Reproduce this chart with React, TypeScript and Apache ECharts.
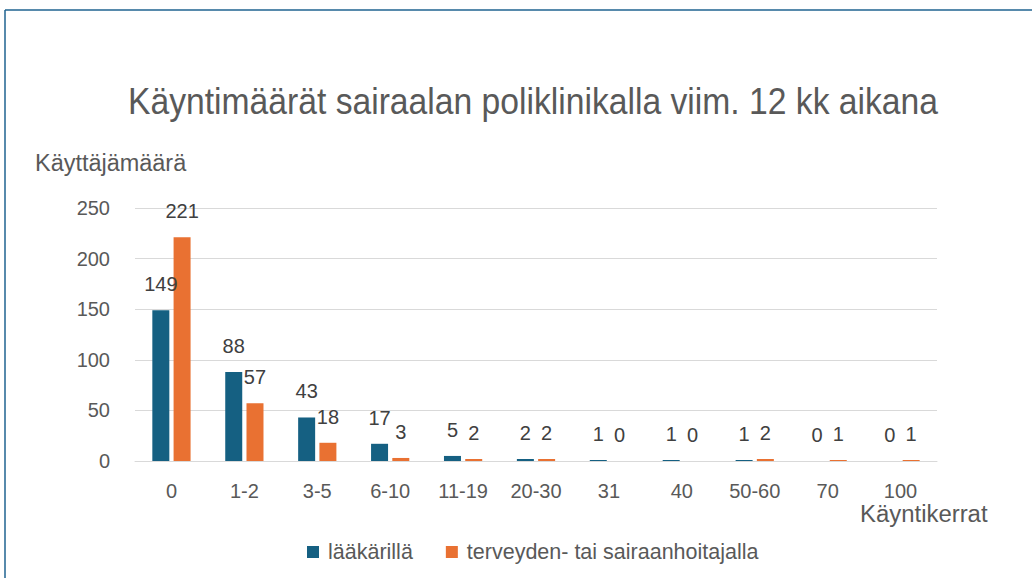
import React, { useEffect, useRef } from "react";
import * as echarts from "echarts";

const categories = ["0", "1-2", "3-5", "6-10", "11-19", "20-30", "31", "40", "50-60", "70", "100"];
const doctorValues = [149, 88, 43, 17, 5, 2, 1, 1, 1, 0, 0];
const nurseValues = [221, 57, 18, 3, 2, 2, 0, 0, 2, 1, 1];
const seriesNames = ["lääkärillä", "terveyden- tai sairaanhoitajalla"];
const yTicks = [0, 50, 100, 150, 200, 250];
const titleText = "Käyntimäärät sairaalan poliklinikalla viim. 12 kk aikana";
const yName = "Käyttäjämäärä";
const xName = "Käyntikerrat";

const FONT = "'Liberation Sans', Arial, sans-serif";

export default function App() {
  const ref = useRef<HTMLDivElement>(null);
  useEffect(() => {
    if (!ref.current) return;
    const chart = echarts.init(ref.current, undefined, { renderer: "svg" });
    const label = {
      show: true,
      position: "top",
      distance: 16,
      color: "#404040",
      fontSize: 20,
      fontFamily: FONT,
    };
    chart.setOption({
      animation: false,
      backgroundColor: "#ffffff",
      graphic: [
        {
          type: "line",
          shape: { x1: 5, y1: 10, x2: 1032, y2: 10 },
          style: { stroke: "#1f6391", lineWidth: 1.5 },
          silent: true,
        },
        {
          type: "line",
          shape: { x1: 5, y1: 10, x2: 5, y2: 578 },
          style: { stroke: "#1f6391", lineWidth: 1.5 },
          silent: true,
        },
        {
          type: "text",
          x: 533,
          y: 101,
          scaleX: 0.91,
          style: {
            text: titleText,
            fill: "#595959",
            fontSize: 37,
            fontFamily: FONT,
            align: "center",
            verticalAlign: "middle",
          },
        },
        {
          type: "text",
          x: 35,
          y: 163,
          scaleX: 1.02,
          style: {
            text: yName,
            fill: "#595959",
            fontSize: 23,
            fontFamily: FONT,
            verticalAlign: "middle",
          },
        },
        {
          type: "text",
          x: 860,
          y: 514,
          scaleX: 1.04,
          style: {
            text: xName,
            fill: "#595959",
            fontSize: 23,
            fontFamily: FONT,
            verticalAlign: "middle",
          },
        },
      ],
      legend: {
        data: seriesNames,
        top: 536,
        left: 302,
        itemWidth: 12,
        itemHeight: 12,
        itemGap: 33,
        icon: "rect",
        textStyle: { color: "#595959", fontSize: 21.5, fontFamily: FONT, padding: [0, 0, 0, 4] },
      },
      grid: { left: 135, right: 95, top: 208, bottom: 117, containLabel: false },
      xAxis: {
        type: "category",
        data: categories,
        axisLine: { lineStyle: { color: "#d9d9d9", width: 1 } },
        axisTick: { show: false },
        axisLabel: { color: "#595959", fontSize: 20, margin: 20, fontFamily: FONT },
      },
      yAxis: {
        type: "value",
        min: yTicks[0],
        max: yTicks[yTicks.length - 1],
        interval: 50,
        axisLine: { show: false },
        axisTick: { show: false },
        axisLabel: { color: "#595959", fontSize: 20, margin: 25, fontFamily: FONT },
        splitLine: { lineStyle: { color: "#d9d9d9", width: 1 } },
      },
      series: [
        {
          name: seriesNames[0],
          type: "bar",
          data: doctorValues,
          barWidth: 17,
          barGap: "25%",
          itemStyle: { color: "#156082" },
          label,
        },
        {
          name: seriesNames[1],
          type: "bar",
          data: nurseValues,
          barWidth: 17,
          barGap: "25%",
          itemStyle: { color: "#e97132" },
          label,
        },
      ],
    });
    return () => chart.dispose();
  }, []);
  return (
    <div
      ref={ref}
      style={{ position: "fixed", left: 0, top: 0, width: 1032, height: 578 }}
    />
  );
}
